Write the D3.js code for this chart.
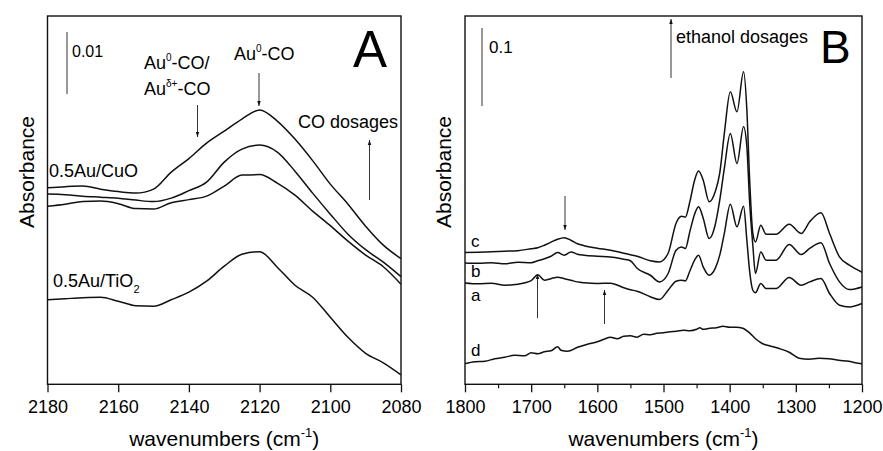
<!DOCTYPE html>
<html><head><meta charset="utf-8">
<script src="https://cdn.jsdelivr.net/npm/d3@7"></script>
<style>
body{margin:0;background:#fff}
svg{display:block}
text{font-family:"Liberation Sans",Arial,Helvetica,sans-serif;fill:#000}
</style>
</head><body>
<svg id="chart" width="883" height="451"></svg>
<script>
// ---------- Panel A data (wavenumber, absorbance) ----------
const wnA = [2180,2175,2170,2165,2160,2155,2150,2145,2140,2135,2130,2125,2120,2115,2110,2105,2100,2095,2090,2085,2080];
const cuoHigh = [0.03169,0.03185,0.03194,0.03145,0.03105,0.03081,0.03145,0.03419,0.03637,0.03887,0.04081,0.04274,0.04419,0.04242,0.03952,0.03605,0.03226,0.02903,0.02548,0.02242,0.02024];
const cuoMid  = [0.03065,0.03056,0.03032,0.03016,0.03000,0.02968,0.02944,0.03000,0.03121,0.03258,0.03581,0.03790,0.03855,0.03742,0.03435,0.03081,0.02742,0.02419,0.02169,0.01968,0.01734];
const cuoLow  = [0.02871,0.02903,0.02944,0.02952,0.02911,0.02831,0.02823,0.02927,0.02976,0.03032,0.03194,0.03371,0.03379,0.03242,0.03048,0.02790,0.02556,0.02306,0.02081,0.01895,0.01613];
const tio2    = [0.01363,0.01379,0.01395,0.01403,0.01339,0.01266,0.01258,0.01363,0.01484,0.01661,0.01903,0.02097,0.02137,0.01887,0.01597,0.01403,0.01081,0.00758,0.00500,0.00347,0.00153];
const ticksA = [2180,2160,2140,2120,2100,2080];

// ---------- Panel B data ----------
const wnB = [1800,1780,1760,1740,1720,1700,1690,1680,1670,1660,1650,1640,1630,1620,1600,1580,1560,1550,1540,1520,1506,1493,1481,1473,1467,1460,1453,1447,1440,1431,1422,1415,1408,1399,1389,1379,1374,1370,1365,1361,1353,1345,1330,1310,1292,1279,1262,1249,1234,1219,1200];
const specC = [0.1688,0.1692,0.1699,0.1705,0.1712,0.1737,0.1750,0.1782,0.1821,0.1859,0.1878,0.1846,0.1801,0.1776,0.1744,0.1718,0.1679,0.1660,0.1641,0.1583,0.1568,0.1679,0.2064,0.2154,0.2141,0.2346,0.2615,0.2731,0.2615,0.2337,0.2462,0.2705,0.3218,0.3747,0.3491,0.4004,0.3513,0.2658,0.1936,0.1824,0.2038,0.1923,0.1923,0.2051,0.1932,0.2081,0.2196,0.1932,0.1632,0.1526,0.1436];
const specB = [0.1555,0.1551,0.1558,0.1545,0.1564,0.1558,0.1583,0.1609,0.1641,0.1688,0.1654,0.1696,0.1667,0.1654,0.1641,0.1632,0.1603,0.1583,0.1487,0.1397,0.1312,0.1419,0.1718,0.1760,0.1740,0.1962,0.2179,0.2273,0.2128,0.1868,0.2038,0.2359,0.2769,0.3214,0.2829,0.3299,0.3042,0.2359,0.1782,0.1419,0.1696,0.1590,0.1590,0.1791,0.1663,0.1740,0.1812,0.1547,0.1312,0.1214,0.1247];
const specA = [0.1299,0.1288,0.1295,0.1269,0.1282,0.1327,0.1404,0.1333,0.1353,0.1372,0.1353,0.1333,0.1312,0.1301,0.1291,0.1295,0.1237,0.1212,0.1192,0.1122,0.1086,0.1205,0.1321,0.1333,0.1324,0.1455,0.1590,0.1654,0.1504,0.1397,0.1481,0.1654,0.1936,0.2308,0.2017,0.2282,0.1846,0.1462,0.1205,0.1173,0.1291,0.1227,0.1227,0.1368,0.1269,0.1312,0.1355,0.1163,0.1013,0.0991,0.1035];
const wnD = [1800,1785,1770,1755,1740,1725,1710,1700,1690,1680,1670,1660,1655,1645,1630,1615,1600,1590,1580,1570,1560,1550,1540,1530,1520,1510,1500,1490,1480,1470,1460,1450,1445,1440,1430,1420,1410,1400,1390,1380,1370,1360,1350,1340,1325,1310,1295,1280,1265,1250,1235,1220,1210,1200];
const specD = [0.0265,0.0288,0.0295,0.0327,0.0346,0.0372,0.0365,0.0404,0.0391,0.0417,0.0429,0.0481,0.0436,0.0423,0.0474,0.0513,0.0545,0.0577,0.0603,0.0583,0.0615,0.0622,0.0603,0.0641,0.0635,0.0654,0.0660,0.0673,0.0679,0.0692,0.0686,0.0705,0.0724,0.0705,0.0718,0.0724,0.0744,0.0731,0.0731,0.0718,0.0658,0.0577,0.0519,0.0494,0.0458,0.0410,0.0333,0.0321,0.0333,0.0327,0.0308,0.0295,0.0276,0.0263];
const ticksB = [1800,1700,1600,1500,1400,1300,1200];
const minorB = [1750,1650,1550,1450,1350,1250];

// ---------- drawing ----------
const svg = d3.select("#chart");
const TOP = 16, BOT = 384.3;

const defs = svg.append("defs");
defs.append("marker").attr("id","ah").attr("viewBox","0 0 10 10")
  .attr("refX",10).attr("refY",5).attr("markerWidth",5).attr("markerHeight",7)
  .attr("markerUnits","userSpaceOnUse").attr("orient","auto")
  .append("path").attr("d","M0,1.5L10,5L0,8.5Z").attr("fill","#111");

function arrow(g, x, yFrom, yTo){
  g.append("line").attr("x1",x).attr("x2",x).attr("y1",yFrom).attr("y2",yTo)
    .attr("stroke","#333").attr("stroke-width",1).attr("marker-end","url(#ah)");
}

function panel(opt){
  const x = d3.scaleLinear().domain(opt.xDomain).range([opt.left, opt.right]);
  const y = d3.scaleLinear().domain(opt.yDomain).range([BOT, TOP]);
  const g = svg.append("g");
  const line = d3.line().x(d=>x(d[0])).y(d=>y(d[1])).curve(d3.curveMonotoneX);
  opt.series.forEach(s=>{
    g.append("path").datum(s.wn.map((w,i)=>[w,s.v[i]]))
      .attr("d",line).attr("fill","none").attr("stroke","#111").attr("stroke-width",1.5)
      .attr("stroke-linejoin","round");
  });
  g.append("rect").attr("x",opt.left).attr("y",TOP).attr("width",opt.right-opt.left).attr("height",BOT-TOP)
    .attr("fill","none").attr("stroke","#111").attr("stroke-width",1.4);
  const ax = g.append("g").attr("transform",`translate(0,${BOT})`)
    .call(d3.axisBottom(x).tickValues(opt.ticks).tickSize(8).tickPadding(8).tickFormat(d3.format("d")));
  ax.select(".domain").remove();
  ax.selectAll(".tick line").attr("stroke","#111").attr("stroke-width",1.3);
  ax.selectAll(".tick text").style("font-size","18px").attr("fill","#000")
    .style("font-family",'"Liberation Sans",Arial,sans-serif');
  if(opt.minor){
    const mx = g.append("g").attr("transform",`translate(0,${BOT})`)
      .call(d3.axisBottom(x).tickValues(opt.minor).tickSize(4).tickFormat(""));
    mx.select(".domain").remove();
    mx.selectAll(".tick line").attr("stroke","#111").attr("stroke-width",1.2);
  }
  const cx = (opt.left+opt.right)/2;
  const xt = g.append("text").attr("x",cx).attr("y",446).attr("text-anchor","middle").style("font-size","21px");
  xt.append("tspan").text("wavenumbers (cm");
  xt.append("tspan").attr("dy",-9).style("font-size","13px").text("-1");
  xt.append("tspan").attr("dy",9).text(")");
  g.append("text").attr("transform",`translate(${opt.left-14},${172}) rotate(-90)`)
    .attr("text-anchor","middle").style("font-size","21px").text("Absorbance");
  const barLen = y(0) - y(opt.bar);
  g.append("line").attr("x1",opt.barX).attr("x2",opt.barX).attr("y1",opt.barY).attr("y2",opt.barY+barLen)
    .attr("stroke","#333").attr("stroke-width",1);
  return {g,x,y};
}

// Panel A
const pA = panel({
  left:47.5, right:401, xDomain:[2180,2080], yDomain:[0,0.05935], ticks:ticksA,
  bar:0.01, barX:67, barY:32,
  series:[{wn:wnA,v:cuoHigh},{wn:wnA,v:cuoMid},{wn:wnA,v:cuoLow},{wn:wnA,v:tio2}]
});
(function(){
  const g = pA.g;
  g.append("text").attr("x",72).attr("y",57).style("font-size","16px").text("0.01");
  g.append("text").attr("x",353).attr("y",67).style("font-size","51px").text("A");
  let t = g.append("text").attr("x",144).attr("y",69).style("font-size","18px");
  t.append("tspan").text("Au"); t.append("tspan").attr("dy",-8).style("font-size","10px").text("0");
  t.append("tspan").attr("dy",8).text("-CO/");
  t = g.append("text").attr("x",144).attr("y",95).style("font-size","18px");
  t.append("tspan").text("Au"); t.append("tspan").attr("dy",-8).style("font-size","10px").text("δ+");
  t.append("tspan").attr("dy",8).text("-CO");
  t = g.append("text").attr("x",234).attr("y",60).style("font-size","18px");
  t.append("tspan").text("Au"); t.append("tspan").attr("dy",-8).style("font-size","10px").text("0");
  t.append("tspan").attr("dy",8).text("-CO");
  g.append("text").attr("x",298).attr("y",128).style("font-size","18px").text("CO dosages");
  g.append("text").attr("x",49).attr("y",177).style("font-size","18px").text("0.5Au/CuO");
  t = g.append("text").attr("x",53).attr("y",287).style("font-size","18px");
  t.append("tspan").text("0.5Au/TiO"); t.append("tspan").attr("dy",6).style("font-size","11px").text("2");
  arrow(g,197.5,105,137);
  arrow(g,259,73,106);
  arrow(g,369.5,200,140);
})();

// Panel B
const pB = panel({
  left:465, right:862, xDomain:[1800,1200], yDomain:[0,0.4718], ticks:ticksB, minor:minorB,
  bar:0.1, barX:482, barY:28,
  series:[{wn:wnB,v:specC},{wn:wnB,v:specB},{wn:wnB,v:specA},{wn:wnD,v:specD}]
});
(function(){
  const g = pB.g;
  g.append("text").attr("x",489).attr("y",53).style("font-size","17px").text("0.1");
  g.append("text").attr("x",820).attr("y",63).style("font-size","46px").text("B");
  g.append("text").attr("x",676).attr("y",43).style("font-size","18px").text("ethanol dosages");
  [["c",247],["b",276.5],["a",301],["d",356]].forEach(([s,yy])=>{
    g.append("text").attr("x",471).attr("y",yy).style("font-size","17px").text(s);
  });
  arrow(g,671,78,19);
  arrow(g,565,196,230);
  arrow(g,537.5,318,274);
  arrow(g,604.5,324,290);
})();
</script>
</body></html>
